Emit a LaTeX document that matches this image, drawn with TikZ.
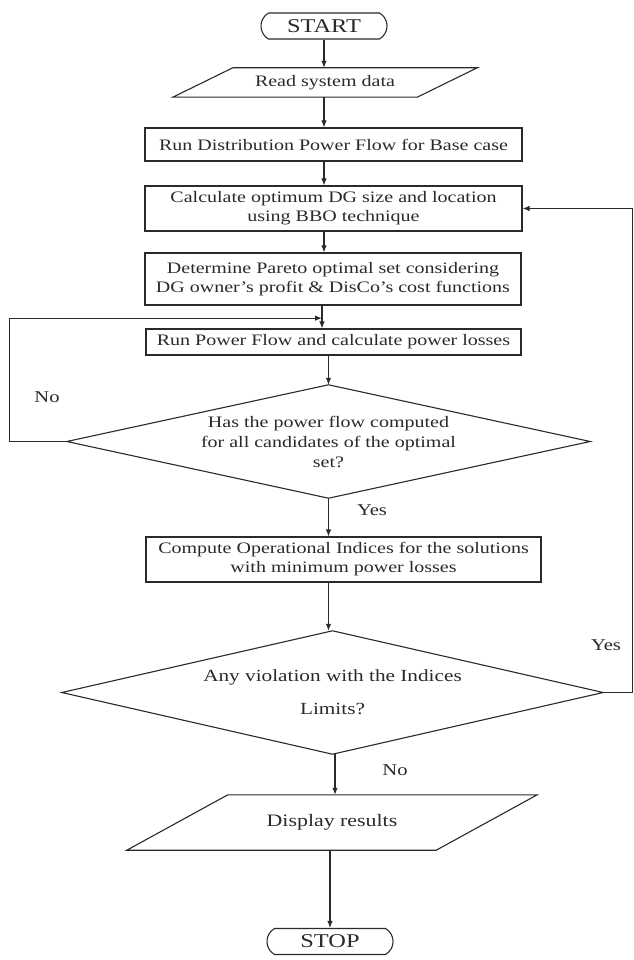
\documentclass[tikz,border=0pt]{standalone}
\usepackage{fontspec}
\setmainfont{Liberation Serif}[FakeStretch=1.25]
\usetikzlibrary{shapes.geometric,shapes.misc,arrows.meta,calc}
\definecolor{ink}{HTML}{2A2A2A}
\begin{document}
\begin{tikzpicture}[x=1pt,y=-1pt,
  every node/.style={font=\fontsize{16}{19}\selectfont, text=ink},
  box/.style={draw=ink, line width=1.1pt, rectangle, inner sep=0pt, align=center},
  term/.style={draw=ink, line width=1.1pt, rounded rectangle, rounded rectangle arc length=120, inner sep=0pt, minimum width=126pt, minimum height=26pt, font=\fontsize{19.5}{22}\selectfont},
  io/.style={draw=none, rectangle, inner sep=0pt, align=center},
  outline/.style={draw=ink, line width=1.1pt, line join=miter},
  arr/.style={draw=ink, line width=1.1pt, -{Latex[length=7pt,width=5.5pt]}},
  lab/.style={font=\fontsize{16.5}{19}\selectfont}]
\useasboundingbox[fill=white] (0,0) rectangle (633,960);

\node[term] (start) at (324,26) {START};
\node[io, minimum width=244pt, minimum height=29pt] (read) at (325,82.5) {Read system data};
\draw[outline] ($(read.north west)+(30,0)$) -- ($(read.north east)+(30,0)$) -- ($(read.south east)-(30,0)$) -- ($(read.south west)-(30,0)$) -- cycle;
\node[box, minimum width=377pt, minimum height=33pt] (rundist) at (333.5,144.5) {Run Distribution Power Flow for Base case};
\node[box, minimum width=377pt, minimum height=45pt] (calc) at (333.5,208.5) {Calculate optimum DG size and location\\using BBO technique};
\node[box, minimum width=376pt, minimum height=52pt] (determine) at (333,279) {Determine Pareto optimal set considering\\DG owner’s profit \& DisCo’s cost functions};
\node[box, minimum width=375pt, minimum height=26pt] (runpf) at (333.5,342) {Run Power Flow and calculate power losses};
\node[io, minimum width=523pt, minimum height=113pt, font=\fontsize{16}{20}\selectfont] (dia1) at (328.5,441.5) {Has the power flow computed\\for all candidates of the optimal\\set?};
\draw[outline] (dia1.north) -- (dia1.east) -- (dia1.south) -- (dia1.west) -- cycle;
\node[box, minimum width=395pt, minimum height=45pt] (compute) at (343.5,559.5) {Compute Operational Indices for the solutions\\with minimum power losses};
\node[io, minimum width=541pt, minimum height=123pt, font=\fontsize{17}{20}\selectfont] (dia2) at (332.5,692.5) {Any violation with the Indices\\[13pt]Limits?};
\draw[outline] (dia2.north) -- (dia2.east) -- (dia2.south) -- (dia2.west) -- cycle;
\node[io, minimum width=309pt, minimum height=55pt, font=\fontsize{17.5}{20}\selectfont] (display) at (332,822.5) {Display results};
\draw[outline] ($(display.north west)+(50.5,0)$) -- ($(display.north east)+(50.5,0)$) -- ($(display.south east)-(50.5,0)$) -- ($(display.south west)-(50.5,0)$) -- cycle;
\node[term] (stop) at (330,941.5) {STOP};

% main flow
\draw[arr] (start.south) -- (start.south |- read.north);
\draw[arr] (start |- read.south) -- (start |- rundist.north);
\draw[arr] (start |- rundist.south) -- (start |- calc.north);
\draw[arr] (start |- calc.south) -- (start |- determine.north);
\draw[arr] ([xshift=-2pt]start |- determine.south) -- ([xshift=-2pt]start |- runpf.north);
\draw[arr] (dia1 |- runpf.south) -- (dia1.north);
\draw[arr] (dia1.south) -- (dia1.south |- compute.north);
\draw[arr] (dia1 |- compute.south) -- (dia1 |- dia2.north);
\draw[arr] ([xshift=2.5pt]dia2.south) -- ([xshift=2.5pt]dia2.south |- display.north);
\draw[arr] (stop |- display.south) -- (stop.north);

% loops
\coordinate (j1) at ($([xshift=-2pt]start |- determine.south)!0.55!([xshift=-2pt]start |- runpf.north)$);
\draw[arr] (dia1.west) -- ++(-57,0) |- (j1);
\draw[arr] (dia2.east) -- ++(29,0) |- (calc.east);

% labels
\node[lab] (no1) at (47,397) {No};
\node[lab] (yes1) at (372,510) {Yes};
\node[lab] (yes2) at (606,645) {Yes};
\node[lab] (no2) at (395,770) {No};
\end{tikzpicture}
\end{document}
